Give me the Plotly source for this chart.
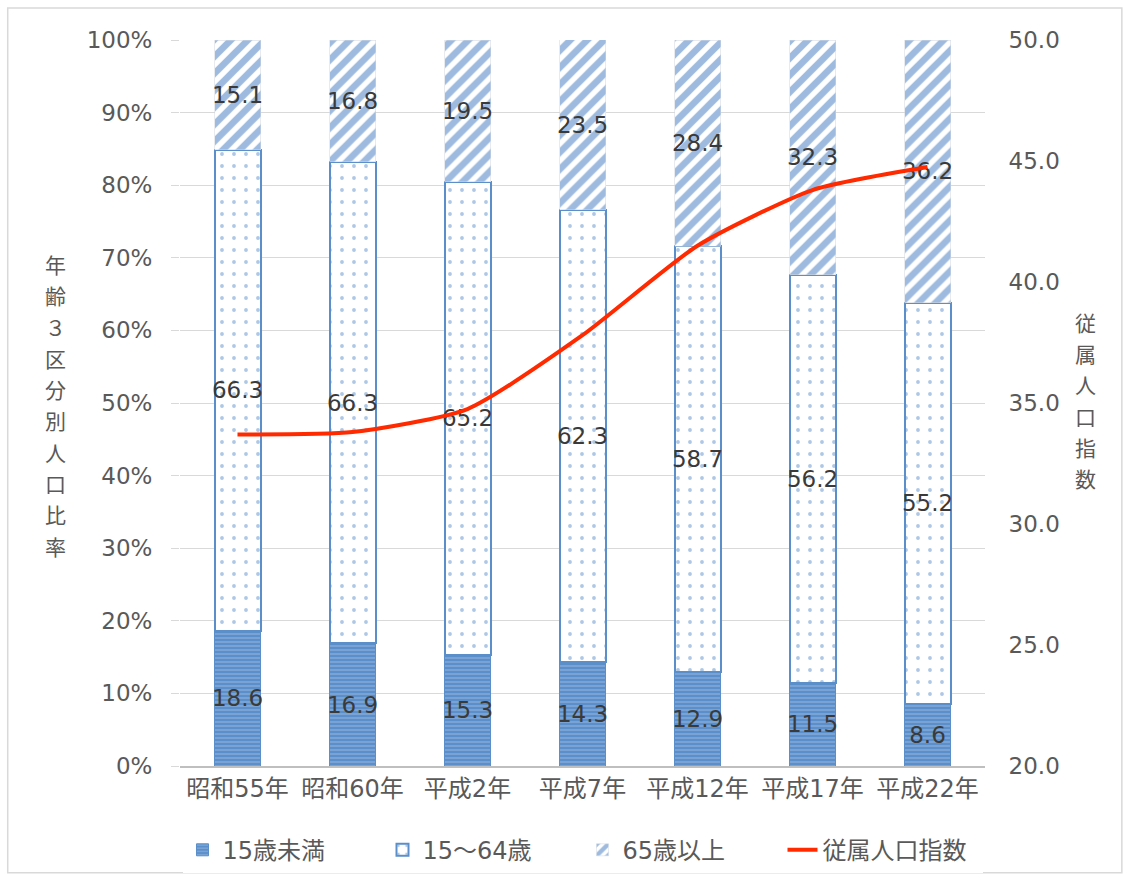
import plotly.graph_objects as go

# Census years
years = ["昭和55年", "昭和60年", "平成2年", "平成7年", "平成12年", "平成17年", "平成22年"]

# Age-group shares (%)
under15 = [18.6, 16.9, 15.3, 14.3, 12.9, 11.5, 8.6]
age15_64 = [66.3, 66.3, 65.2, 62.3, 58.7, 56.2, 55.2]
over65 = [15.1, 16.8, 19.5, 23.5, 28.4, 32.3, 36.2]

# Dependency ratio index (right axis)
dependency = [33.7, 33.8, 34.75, 37.8, 41.5, 43.8, 44.75]

left_ticks = [0, 10, 20, 30, 40, 50, 60, 70, 80, 90, 100]
right_ticks = [20, 25, 30, 35, 40, 45, 50]

left_title = "年齢３区分別人口比率"
right_title = "従属人口指数"

BLUE = "#5b8fc9"
TEXT = "#595959"
FONT = "DejaVu Sans, Noto Sans CJK JP"
CJK = "Noto Sans CJK JP"

PLOT_TOP, PLOT_H = 40, 726  # plot area in pixels

fig = go.Figure()

label_font = dict(family=FONT, size=23, color="#3a3a3a")

fig.add_trace(go.Bar(
    x=years, y=under15, name="15歳未満",
    text=[f"{v:.1f}" for v in under15],
    textposition="inside", insidetextanchor="middle", textangle=0,
    constraintext="none", textfont=label_font,
    marker=dict(color=BLUE, line=dict(color=BLUE, width=1),
                pattern=dict(shape="-", bgcolor=BLUE, fgcolor="#cfe0f2",
                             size=4, solidity=0.25)),
))
fig.add_trace(go.Bar(
    x=years, y=age15_64, name="15～64歳",
    text=[f"{v:.1f}" for v in age15_64],
    textposition="inside", insidetextanchor="middle", textangle=0,
    constraintext="none", textfont=label_font,
    marker=dict(color="white", line=dict(color=BLUE, width=2),
                pattern=dict(shape=".", bgcolor="white", fgcolor=BLUE,
                             size=12, solidity=0.08)),
))
fig.add_trace(go.Bar(
    x=years, y=over65, name="65歳以上",
    text=[f"{v:.1f}" for v in over65],
    textposition="inside", insidetextanchor="middle", textangle=0,
    constraintext="none", textfont=label_font,
    marker=dict(color="white", line=dict(color="#d0d8e2", width=0.5),
                pattern=dict(shape="/", bgcolor="white", fgcolor="#3d78c0",
                             size=12, solidity=0.55)),
))
fig.add_trace(go.Scatter(
    x=years, y=dependency, name="従属人口指数", yaxis="y2",
    mode="lines", line=dict(color="#ff2a00", width=4, shape="spline", smoothing=0.6),
))

fig.update_layout(
    width=1127, height=880,
    barmode="stack", bargap=0.6,
    paper_bgcolor="white", plot_bgcolor="white",
    margin=dict(l=180, r=142, t=PLOT_TOP, b=880 - PLOT_TOP - PLOT_H, autoexpand=False),
    font=dict(family=FONT, color=TEXT, size=20),
    showlegend=True,
    legend=dict(orientation="h", x=0.5, xanchor="center", y=-0.085, yanchor="top",
                font=dict(family=FONT, size=24, color=TEXT),
                entrywidth=155, entrywidthmode="pixels",
                tracegroupgap=0, traceorder="normal"),
    xaxis=dict(showgrid=False, showline=True, linecolor="#bfbfbf", linewidth=2,
               tickfont=dict(family=FONT, size=24, color=TEXT), ticks=""),
    yaxis=dict(range=[0, 100], tickvals=left_ticks,
               ticktext=[f"{v}%" for v in left_ticks],
               showgrid=True, gridcolor="#d9d9d9", gridwidth=1, zeroline=False,
               ticks="outside", ticklen=8, tickcolor="#d9d9d9",
               ticklabelstandoff=14,
               tickfont=dict(family=FONT, size=23, color=TEXT)),
    yaxis2=dict(range=[20, 50], tickvals=right_ticks,
                ticktext=[f"{v:.1f}" for v in right_ticks],
                overlaying="y", side="right", showgrid=False, zeroline=False,
                ticks="outside", ticklen=8, tickcolor="white",
                ticklabelstandoff=10,
                tickfont=dict(family=FONT, size=23, color=TEXT)),
)


def vertical_title(chars, x, first_px, step_px):
    """Stack upright characters one per line, outside the plot area."""
    for i, ch in enumerate(chars):
        py = first_px + i * step_px
        fig.add_annotation(text=ch, xref="paper", yref="paper",
                           x=x, y=(PLOT_TOP + PLOT_H - py) / PLOT_H,
                           xanchor="center", yanchor="middle", showarrow=False,
                           font=dict(family=CJK, size=21, color=TEXT))


vertical_title(left_title, -0.155, 264, 31.3)
vertical_title(right_title, 1.125, 322, 31.2)

# Chart frame
fig.add_shape(type="rect", xref="paper", yref="paper",
              x0=-0.214, x1=1.17, y0=-0.147, y1=1.044,
              line=dict(color="#d9d9d9", width=1.5), fillcolor="rgba(0,0,0,0)")

fig.write_html("out.html")
